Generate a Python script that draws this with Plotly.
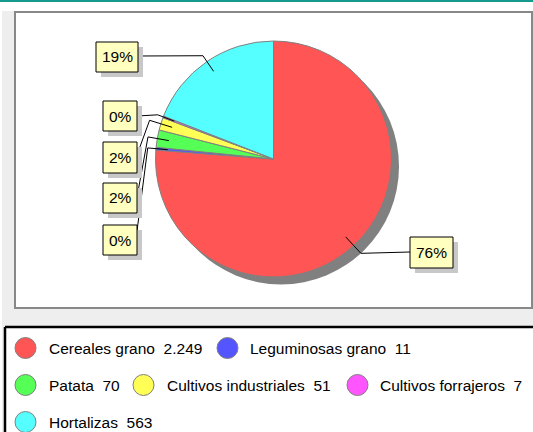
import math
import plotly.graph_objects as go

W, H = 533, 432

# ---- data ----
categories = ["Cereales grano", "Leguminosas grano", "Patata",
              "Cultivos industriales", "Cultivos forrajeros", "Hortalizas"]
values = [2249, 11, 70, 51, 7, 563]
colors = ["#ff5555", "#5555ff", "#55ff55", "#ffff55", "#ff55ff", "#55ffff"]

# ---- layout constants (pixels) ----
CX, CY, R = 273.5, 159, 118
SHADOW = 7.5
FONT = "Liberation Sans, Arial, sans-serif"
FS = 15.5

# label boxes: (x0, x1, y0, y1, anchor_x, anchor_y, elbow factor)
label_boxes = [
    (410, 453, 237, 268, 410, 252, 1.09),
    (103, 137, 225, 255, 137, 231, 1.07),
    (103, 137, 183, 213, 137, 197, 1.08),
    (103, 137, 142, 173, 137, 155, 1.10),
    (103, 137, 101, 131, 137, 116, 1.05),
    (96, 138, 42, 72, 138, 56, 1.06),
]
# legend item positions: (circle center x, row center y, text x)
legend_pos = [
    (25.5, 348, 47), (227.5, 348, 248),
    (25.5, 385, 47), (143.5, 385, 165), (357.5, 385, 378),
    (25.5, 422, 47),
]


def px(x):
    return x / W


def py(y):
    return 1 - y / H


def rect(x0, y0, x1, y1, fill, line_color=None, lw=0, layer="below"):
    return dict(type="rect", xref="paper", yref="paper",
                x0=px(x0), x1=px(x1), y0=py(y1), y1=py(y0),
                fillcolor=fill, layer=layer,
                line=dict(color=line_color or fill, width=lw))


def hline(x0, x1, y, color, lw):
    return dict(type="line", xref="paper", yref="paper",
                x0=px(x0), x1=px(x1), y0=py(y), y1=py(y),
                line=dict(color=color, width=lw), layer="below")


def vline(x, y0, y1, color, lw):
    return dict(type="line", xref="paper", yref="paper",
                x0=px(x), x1=px(x), y0=py(y0), y1=py(y1),
                line=dict(color=color, width=lw), layer="below")


shapes = []
annotations = []

# backgrounds
shapes.append(rect(2, 11, 533, 432, "#eeeeee"))
shapes.append(rect(0, 0, 533, 2, "#13998e"))
shapes.append(rect(15, 12, 532, 308, "#ffffff", "#888888", 2))
# legend box: white fill, black border on left and top only
shapes.append(rect(5, 327, 533, 432, "#ffffff"))
shapes.append(vline(5, 327, 432, "#000000", 2.5))
shapes.append(hline(5, 533, 327, "#000000", 2.5))

# pie shadow
shapes.append(dict(type="circle", xref="paper", yref="paper",
                   x0=px(CX - R + SHADOW), x1=px(CX + R + SHADOW),
                   y0=py(CY + R + SHADOW), y1=py(CY - R + SHADOW),
                   fillcolor="#808080", line=dict(color="#808080", width=0),
                   layer="below"))

total = sum(values)
cum = 0
for i, v in enumerate(values):
    mid = (cum + v / 2) / total * 2 * math.pi
    cum += v
    x0, x1, y0, y1, ax, ay, k = label_boxes[i]
    s, c = math.sin(mid), math.cos(mid)
    ix, iy = CX + 0.9 * R * s, CY - 0.9 * R * c
    ex, ey = CX + k * R * s, CY - k * R * c
    path = f"M {px(ix)} {py(iy)} L {px(ex)} {py(ey)} L {px(ax)} {py(ay)}"
    shapes.append(dict(type="path", xref="paper", yref="paper", path=path,
                       line=dict(color="#000000", width=1), layer="above"))
    shapes.append(rect(x0 + 5, y0 + 5, x1 + 5, y1 + 5, "#c8c8c8", layer="above"))
    shapes.append(rect(x0, y0, x1, y1, "#ffffc0", "#000000", 1, layer="above"))
    pct = round(v / total * 100)
    annotations.append(dict(x=px((x0 + x1) / 2), y=py((y0 + y1) / 2),
                            xref="paper", yref="paper", text=f"{pct}%",
                            showarrow=False, xanchor="center", yanchor="middle",
                            font=dict(family=FONT, size=FS, color="#000000")))

# legend
for i, (cat, v) in enumerate(zip(categories, values)):
    lx, ly, tx = legend_pos[i]
    rr = 10.5
    shapes.append(dict(type="circle", xref="paper", yref="paper",
                       x0=px(lx - rr), x1=px(lx + rr), y0=py(ly + rr), y1=py(ly - rr),
                       fillcolor=colors[i], line=dict(color="#808080", width=1),
                       layer="above"))
    vtxt = f"{v:,}".replace(",", ".")
    annotations.append(dict(x=px(tx), y=py(ly), xref="paper", yref="paper",
                            text=f"{cat}\u00a0\u00a0{vtxt}", showarrow=False,
                            xanchor="left", yanchor="middle",
                            font=dict(family=FONT, size=FS, color="#000000")))

fig = go.Figure()
fig.add_trace(go.Pie(
    labels=categories, values=values, sort=False, direction="clockwise",
    rotation=0, textinfo="none", hoverinfo="skip",
    marker=dict(colors=colors, line=dict(color="#808080", width=1)),
    domain=dict(x=[px(CX - R), px(CX + R)], y=[py(CY + R), py(CY - R)]),
    showlegend=False,
))
fig.update_layout(
    width=W, height=H, margin=dict(l=0, r=0, t=0, b=0),
    paper_bgcolor="#ffffff", plot_bgcolor="#ffffff",
    shapes=shapes, annotations=annotations, showlegend=False,
)
fig.write_html("out.html", config={"displayModeBar": False},
               post_script="document.documentElement.style.margin='0';"
                           "document.documentElement.style.overflow='hidden';"
                           "document.body.style.margin='0';"
                           "document.body.style.padding='0';"
                           "document.body.style.overflow='hidden';")
